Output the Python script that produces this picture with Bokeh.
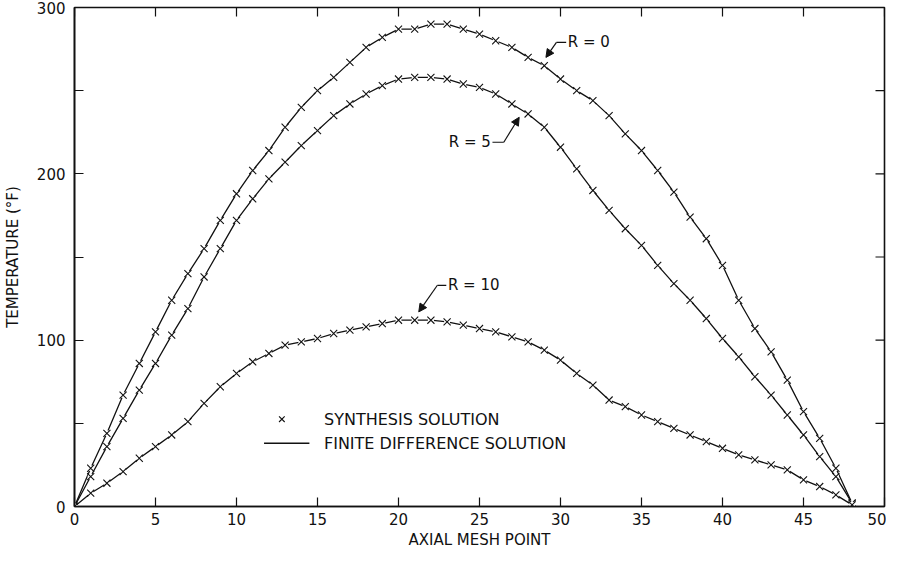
import math
from bokeh.plotting import figure
from bokeh.models import LinearAxis, FixedTicker, Range1d, Arrow, NormalHead, Label
from bokeh.embed import file_html
from bokeh.resources import INLINE

# ---- data ----
mesh = list(range(49))
t_r0 = [0, 23, 44, 67, 86, 105, 124, 140, 155, 172, 188, 202, 214, 228, 240,
        250, 258, 267, 276, 282, 287, 287, 290, 290, 287, 284, 280, 276, 270,
        265, 257, 250, 244, 235, 224, 214, 202, 189, 174, 161, 145, 124, 107,
        93, 76, 57, 41, 23, 2]
t_r5 = [0, 18, 36, 53, 70, 86, 103, 119, 138, 155, 172, 185, 197, 207, 217,
        226, 235, 242, 248, 253, 257, 258, 258, 257, 254, 252, 248, 242, 236,
        228, 216, 203, 190, 178, 167, 157, 145, 134, 124, 113, 101, 90, 78,
        67, 55, 43, 30, 18, 2]
t_r10 = [0, 8, 14, 21, 29, 36, 43, 51, 62, 72, 80, 87, 92, 97, 99, 101, 104,
         106, 108, 110, 112, 112, 112, 111, 109, 107, 105, 102, 99, 94, 88,
         80, 73, 64, 60, 55, 51, 47, 43, 39, 35, 31, 28, 25, 22, 16, 12, 7, 1]
x_ticks = [0, 5, 10, 15, 20, 25, 30, 35, 40, 45, 50]
y_ticks = [0, 50, 100, 150, 200, 250, 300]
y_tick_text = {0: "0", 50: "", 100: "100", 150: "", 200: "200", 250: "", 300: "300"}

FONT = "DejaVu Sans"
INK = "#111111"
X_MIN, X_MAX, Y_MIN, Y_MAX = 0, 50, 0, 300

p = figure(width=886, height=551, output_backend="svg", toolbar_location=None,
           x_range=Range1d(X_MIN, X_MAX), y_range=Range1d(Y_MIN, Y_MAX),
           x_axis_location=None, y_axis_location=None,
           min_border_left=71, min_border_right=2, min_border_top=7,
           min_border_bottom=44)
p.grid.visible = False
p.outline_line_color = INK
p.outline_line_width = 1.6
p.background_fill_color = "white"
p.border_fill_color = "white"


def make_axis(label_text, ticks, overrides=None, standoff=6, label_standoff=3):
    ax = LinearAxis(ticker=FixedTicker(ticks=ticks))
    ax.axis_line_color = INK
    ax.axis_line_width = 1.6
    ax.major_tick_line_color = INK
    ax.major_tick_line_width = 1.2
    ax.major_tick_in = 9
    ax.major_tick_out = 0
    ax.minor_tick_line_color = None
    ax.major_label_text_font = FONT
    ax.major_label_text_font_size = "15px"
    ax.major_label_text_color = INK
    ax.major_label_standoff = standoff
    if overrides:
        ax.major_label_overrides = overrides
    ax.axis_label = label_text
    ax.axis_label_text_font = FONT
    ax.axis_label_text_font_size = "15px"
    ax.axis_label_text_font_style = "normal"
    ax.axis_label_text_color = INK
    ax.axis_label_standoff = label_standoff
    return ax


p.add_layout(make_axis("AXIAL MESH POINT", x_ticks, standoff=6, label_standoff=3), "below")
p.add_layout(make_axis("TEMPERATURE (°F)", y_ticks, overrides=y_tick_text,
                       standoff=9, label_standoff=12), "left")

# inward tick marks on the top and right frame edges (half outside is clipped)
p.scatter(x_ticks, [Y_MAX] * len(x_ticks), marker="dash", size=18,
          angle=math.pi / 2, line_color=INK, line_width=1.2)
p.scatter([X_MAX] * len(y_ticks), y_ticks, marker="dash", size=18,
          line_color=INK, line_width=1.2)

for series in (t_r0, t_r5, t_r10):
    p.line(mesh, series, line_color=INK, line_width=1.3)
    p.scatter(mesh, series, marker="circle", size=6, fill_color="white",
              line_color=None)
    p.scatter(mesh, series, marker="x", size=10, line_color=INK, line_width=1.1)

# ---- curve labels with leader arrows ----
def leader(x0, y0, x1, y1):
    p.add_layout(Arrow(end=None, x_start=x0, y_start=y0, x_end=x1, y_end=y1,
                       line_color=INK, line_width=1.2))


def pointer(x0, y0, x1, y1):
    p.add_layout(Arrow(end=NormalHead(size=8, fill_color=INK, line_color=INK,
                                      line_width=1),
                       x_start=x0, y_start=y0, x_end=x1, y_end=y1,
                       line_color=INK, line_width=1.2))


def label(x, y, text, align="left", size="15px"):
    p.add_layout(Label(x=x, y=y, text=text, text_font=FONT, text_font_size=size,
                       text_color=INK, text_align=align, text_baseline="middle"))


leader(30.35, 279, 29.75, 279)
pointer(29.75, 279, 29.1, 270)
label(30.45, 279, "R = 0")

leader(25.8, 219, 26.5, 219)
pointer(26.5, 219, 27.45, 234)
label(25.7, 219, "R = 5", align="right")

leader(22.95, 133, 22.4, 133)
pointer(22.4, 133, 21.25, 117)
label(23.05, 133, "R = 10")

# ---- legend ----
p.scatter([12.8], [52.5], marker="x", size=8, line_color=INK, line_width=1.1)
p.line([11.7, 14.5], [38, 38], line_color=INK, line_width=1.4)
label(15.4, 52.5, "SYNTHESIS SOLUTION", size="16px")
label(15.4, 38, "FINITE DIFFERENCE SOLUTION", size="16px")

open("out.html", "w").write(file_html(p, INLINE))
